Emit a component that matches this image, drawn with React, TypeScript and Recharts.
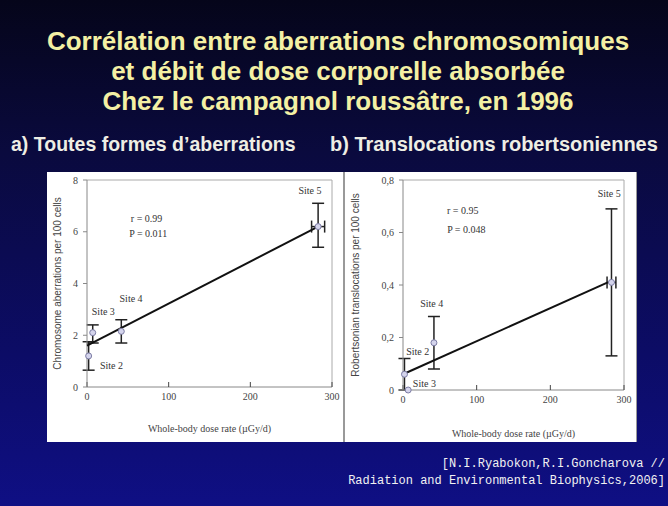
import React from "react";
import { ScatterChart, Scatter, XAxis, YAxis, ErrorBar, ReferenceLine, Label } from "recharts";

// sites 2..5
const sites = ["Site 2", "Site 3", "Site 4", "Site 5"];
const doseRate = [2, 7, 42, 283];
const doseErrA = [0, 0, 0, 8];
const doseErrB = [0, 0, 0, 6];

// a) all aberrations
const aberrations = [1.2, 2.1, 2.15, 6.2];
const aberrLow = [0.65, 1.7, 1.7, 5.4];
const aberrHigh = [1.75, 2.4, 2.6, 7.1];

// b) robertsonian translocations
const translocations = [0.06, 0, 0.18, 0.41];
const translocLow = [0, 0, 0.08, 0.13];
const translocHigh = [0.12, 0, 0.28, 0.69];

const trendA = [[0, 1.6], [280, 6.15]];
const trendB = [[0, 0.06], [278, 0.41]];

const xTicks = [0, 100, 200, 300];
const yTicksA = [0, 2, 4, 6, 8];
const yTicksB = [0, 0.2, 0.4, 0.6, 0.8];

// annotation positions in data units
const labelsA = [
  { x: 273, y: 7.55, text: "Site 5" },
  { x: 20, y: 2.86, text: "Site 3" },
  { x: 54, y: 3.38, text: "Site 4" },
  { x: 30, y: 0.77, text: "Site 2" },
  { x: 73, y: 6.45, text: "r = 0.99" },
  { x: 75, y: 5.87, text: "P = 0.011" },
];
const labelsB = [
  { x: 280, y: 0.743, text: "Site 5" },
  { x: 39, y: 0.324, text: "Site 4" },
  { x: 20, y: 0.142, text: "Site 2" },
  { x: 29, y: 0.019, text: "Site 3" },
  { x: 81, y: 0.679, text: "r = 0.95" },
  { x: 86, y: 0.606, text: "P = 0.048" },
];

const SERIF = "'Liberation Serif', 'DejaVu Serif', serif";
const SANS = "'Liberation Sans', Arial, sans-serif";

function buildPoints(ys: number[], lo: number[], hi: number[], xe: number[]) {
  return sites.map((s, i) => ({
    name: s,
    x: doseRate[i],
    y: ys[i],
    ey: hi[i] - lo[i] > 0 ? [ys[i] - lo[i], hi[i] - ys[i]] : undefined,
    ex: xe[i] > 0 ? [xe[i], xe[i]] : undefined,
  }));
}

const TextShape = (p: any) => (
  <text x={p.cx} y={p.cy} textAnchor="middle" dominantBaseline="middle"
    fontFamily={SERIF} fontSize={10} fill="#333">
    {p.payload.text}
  </text>
);

const Dot = (p: any) => (
  <circle cx={p.cx} cy={p.cy} r={3} fill="#d4d4ec" stroke="#7c7ca4" strokeWidth={1} />
);

const NoShape = () => <g />;

function Panel({
  width, height, yWidth, rightMargin, xHeight, yTicks, yMax, fmt, points, trend, labels, yLabel, xLabelDy,
}: any) {
  const trendData = trend.map(([x, y]: number[]) => ({ x, y }));
  return (
    <ScatterChart width={width} height={height} margin={{ top: 8, right: rightMargin, left: 0, bottom: 0 }}>
      <XAxis type="number" dataKey="x" domain={[0, 300]} ticks={xTicks} height={xHeight}
        axisLine={{ stroke: "#888" }} tickLine={{ stroke: "#444" }} tickSize={-5} tickMargin={11}
        tick={{ fontFamily: SERIF, fontSize: 10, fill: "#444" }}>
        <Label content={(lp: any) => (
          <text x={lp.viewBox.x + lp.viewBox.width / 2} y={lp.viewBox.y + xLabelDy}
            textAnchor="middle" fontFamily={SERIF} fontSize={10} fill="#444">
            Whole-body dose rate (µGy/d)
          </text>
        )} />
      </XAxis>
      <YAxis type="number" dataKey="y" domain={[0, yMax]} ticks={yTicks} width={yWidth}
        axisLine={{ stroke: "#888" }} tickLine={{ stroke: "#888" }} tickSize={4} tickMargin={5}
        tickFormatter={fmt} tick={{ fontFamily: SERIF, fontSize: 10, fill: "#444" }}>
        <Label content={(lp: any) => {
          const cx = lp.viewBox.x + 11;
          const cy = lp.viewBox.y + lp.viewBox.height / 2;
          return (
            <text x={cx} y={cy} transform={`rotate(-90 ${cx} ${cy})`} textAnchor="middle"
              dominantBaseline="middle" fontFamily={SANS} fontSize={10} fill="#444">
              {yLabel}
            </text>
          );
        }} />
      </YAxis>
      <ReferenceLine y={yMax} stroke="#aaa" />
      <ReferenceLine x={300} stroke="#aaa" />
      <Scatter data={trendData} line={{ stroke: "#111", strokeWidth: 2 }} shape={NoShape} isAnimationActive={false} />
      <Scatter data={points} shape={Dot} isAnimationActive={false}>
        <ErrorBar dataKey="ey" direction="y" width={6} stroke="#222" strokeWidth={1.5} />
        <ErrorBar dataKey="ex" direction="x" width={6} stroke="#222" strokeWidth={1.5} />
      </Scatter>
      <Scatter data={labels} shape={TextShape} isAnimationActive={false} />
    </ScatterChart>
  );
}

export default function App() {
  const pointsA = buildPoints(aberrations, aberrLow, aberrHigh, doseErrA);
  const pointsB = buildPoints(translocations, translocLow, translocHigh, doseErrB);
  return (
    <div style={{
      position: "fixed", left: 0, top: 0, width: 668, height: 506, overflow: "hidden",
      background: "linear-gradient(to bottom, #05051a 0%, #0a0a3e 30%, #0c0c66 70%, #0f0f84 100%)",
      fontFamily: SANS,
    }}>
      <div style={{
        position: "absolute", left: 4, top: 26, width: 668, textAlign: "center", color: "#f4f0a4",
        fontWeight: "bold", fontSize: 26, lineHeight: "30px",
      }}>
        <div>Corrélation entre aberrations chromosomiques</div>
        <div>et débit de dose corporelle absorbée</div>
        <div>Chez le campagnol roussâtre, en 1996</div>
      </div>
      <div style={{ position: "absolute", left: 11, top: 133, color: "#eeeee4", fontWeight: "bold", fontSize: 19.5 }}>
        a) Toutes formes d’aberrations
      </div>
      <div style={{ position: "absolute", left: 330, top: 133, color: "#eeeee4", fontWeight: "bold", fontSize: 20 }}>
        b) Translocations robertsoniennes
      </div>

      <div style={{ position: "absolute", left: 47, top: 172, width: 296, height: 270, background: "#fff" }}>
        <Panel width={296} height={270} yWidth={40} rightMargin={11} xHeight={55}
          yTicks={yTicksA} yMax={8} fmt={(v: number) => String(v)}
          points={pointsA} trend={trendA} labels={labelsA}
          yLabel="Chromosome aberrations per 100 cells" xLabelDy={45} />
      </div>
      <div style={{ position: "absolute", left: 343, top: 172, width: 2, height: 270, background: "#999" }} />
      <div style={{ position: "absolute", left: 345, top: 172, width: 291, height: 270, background: "#fff", borderRight: "1px solid #999" }}>
        <Panel width={291} height={270} yWidth={58} rightMargin={12} xHeight={52}
          yTicks={yTicksB} yMax={0.8} fmt={(v: number) => (v === 0 ? "0" : v.toFixed(1).replace(".", ","))}
          points={pointsB} trend={trendB} labels={labelsB}
          yLabel="Robertsonian translocations per 100 cells" xLabelDy={47} />
      </div>

      <div style={{
        position: "absolute", right: 3, top: 456, textAlign: "right", color: "#f2f2f2",
        fontFamily: "'Liberation Mono', 'DejaVu Sans Mono', monospace", fontSize: 12, lineHeight: "17px",
      }}>
        <div>[N.I.Ryabokon,R.I.Goncharova //</div>
        <div>Radiation and Environmental Biophysics,2006]</div>
      </div>
    </div>
  );
}
